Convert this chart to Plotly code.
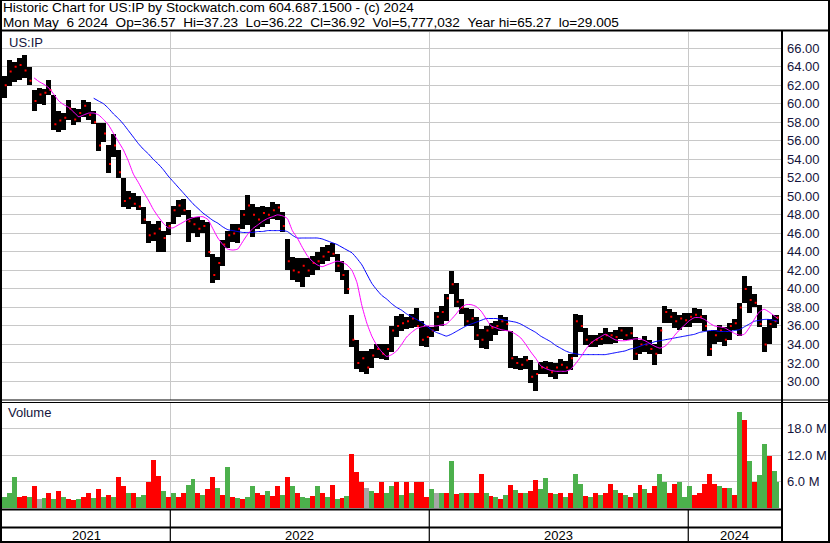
import pandas as pd
import plotly.graph_objects as go

# ---------------------------------------------------------------------------
# US:IP weekly bars (one bar per trading week; the last bar is Mon 6 May 2024)
# ---------------------------------------------------------------------------
week_dates = list(pd.date_range("2021-05-12", periods=156, freq="7D")) + [pd.Timestamp("2024-05-06")]

high = [
    63.0, 64.7, 64.5, 64.9, 65.27, 64.0, 61.5, 61.7, 61.6, 62.6,
    61.0, 59.2, 59.0, 60.4, 59.6, 59.4, 60.4, 60.2, 59.2, 57.9,
    57.9, 55.5, 56.7, 55.0, 52.0, 50.6, 50.4, 50.0, 48.8, 47.3,
    47.0, 47.3, 46.3, 47.2, 49.0, 49.6, 49.7, 48.5, 47.8, 47.8,
    47.4, 47.2, 43.8, 43.5, 45.3, 46.3, 47.0, 47.0, 48.5, 50.1,
    49.2, 48.8, 49.0, 48.8, 49.4, 49.2, 48.3, 45.4, 43.5, 43.3,
    43.3, 43.3, 43.6, 44.0, 44.5, 44.7, 45.0, 43.8, 43.0, 42.0,
    37.2, 34.5, 33.3, 33.3, 33.5, 34.1, 34.1, 34.0, 36.0, 37.1,
    37.3, 37.0, 37.3, 37.9, 36.5, 36.0, 35.9, 37.5, 38.2, 39.5,
    41.9, 40.6, 38.9, 37.9, 37.8, 37.0, 35.7, 36.0, 36.3, 36.5,
    37.2, 37.0, 35.5, 32.8, 32.5, 32.8, 32.3, 31.2, 32.1, 32.2,
    32.1, 32.0, 32.4, 32.2, 33.0, 37.3, 37.2, 35.8, 35.0, 35.0,
    35.2, 35.8, 35.3, 35.6, 35.9, 35.9, 35.9, 34.8, 34.5, 34.9,
    34.5, 34.1, 35.9, 38.1, 37.8, 37.5, 37.2, 37.4, 37.4, 37.9,
    37.8, 37.2, 35.4, 35.6, 36.1, 35.9, 36.3, 36.7, 38.5, 41.35,
    40.3, 39.5, 38.3, 35.9, 36.7, 37.2, 37.23,
]

low = [
    60.6, 61.9, 62.4, 62.6, 62.8, 62.0, 59.2, 60.0, 59.9, 61.0,
    57.2, 57.0, 57.2, 58.2, 57.7, 58.0, 58.6, 58.3, 57.8, 54.9,
    55.9, 52.5, 54.2, 52.0, 48.8, 48.6, 48.8, 48.5, 47.0, 45.0,
    45.2, 44.0, 44.0, 45.8, 47.0, 47.8, 48.0, 45.1, 46.0, 45.6,
    46.0, 43.5, 40.6, 41.0, 42.5, 44.4, 45.1, 45.0, 46.5, 46.9,
    45.6, 46.5, 46.7, 47.0, 47.6, 47.5, 46.2, 42.0, 41.0, 40.8,
    40.2, 41.3, 41.5, 42.0, 42.7, 43.0, 43.4, 41.8, 41.0, 39.5,
    33.7, 31.3, 31.0, 30.8, 31.5, 32.5, 32.4, 32.3, 33.2, 34.8,
    35.5, 35.7, 35.8, 35.9, 33.8, 33.7, 34.8, 35.5, 36.0, 36.5,
    39.5, 38.0, 37.3, 36.0, 36.0, 34.5, 33.6, 33.5, 34.4, 35.0,
    35.5, 35.5, 31.5, 31.3, 31.2, 31.3, 29.8, 29.005, 30.8, 30.8,
    30.5, 30.3, 30.8, 30.8, 31.2, 32.6, 35.3, 33.9, 33.7, 33.7,
    33.9, 34.1, 34.1, 34.2, 34.6, 34.5, 34.5, 32.3, 33.0, 33.2,
    33.0, 31.8, 33.0, 36.3, 36.3, 35.8, 35.6, 35.9, 35.9, 36.3,
    36.3, 35.5, 32.7, 34.1, 34.3, 33.8, 34.5, 35.6, 34.9, 38.5,
    37.4, 38.0, 35.9, 33.2, 34.0, 35.8, 36.22,
]

close = [
    62.0, 63.5, 64.0, 64.2, 63.6, 62.5, 60.3, 61.0, 61.2, 61.5,
    57.8, 58.2, 58.5, 59.5, 58.3, 59.0, 59.8, 58.8, 58.0, 55.5,
    56.8, 53.5, 55.5, 52.6, 49.5, 49.8, 49.2, 48.9, 47.5, 45.8,
    46.0, 46.5, 45.5, 46.8, 48.5, 49.0, 48.5, 47.3, 47.0, 46.5,
    46.8, 44.0, 41.5, 42.8, 44.8, 45.8, 46.0, 46.5, 48.0, 49.0,
    48.0, 47.5, 48.2, 48.0, 48.5, 48.8, 46.8, 43.0, 42.0, 41.8,
    42.5, 42.0, 42.8, 43.0, 43.5, 44.0, 43.8, 42.5, 41.5, 40.0,
    34.5, 32.0, 32.5, 31.5, 32.8, 33.5, 33.0, 33.5, 35.5, 36.0,
    36.3, 36.5, 36.8, 36.0, 34.5, 34.8, 35.5, 37.0, 37.5, 39.0,
    40.5, 38.6, 38.0, 36.5, 36.8, 35.0, 34.5, 35.5, 35.8, 36.0,
    36.5, 36.2, 32.5, 32.0, 31.8, 32.3, 30.5, 30.8, 31.5, 31.5,
    31.0, 31.5, 31.8, 31.5, 32.5, 36.5, 36.0, 34.5, 34.2, 34.5,
    34.6, 35.0, 35.0, 34.8, 35.5, 35.0, 35.2, 33.0, 34.0, 34.0,
    33.5, 33.0, 35.5, 37.5, 37.0, 36.5, 36.8, 36.6, 37.0, 37.2,
    37.0, 36.0, 33.5, 35.0, 35.5, 34.5, 36.0, 36.3, 38.0, 40.0,
    38.8, 38.5, 36.2, 34.0, 36.2, 36.5, 36.92,
]
last_open = 36.57

# volume in millions of shares
volume_m = [
    2.6, 3.5, 7.0, 2.5, 2.8, 2.4, 4.9, 2.0, 2.2, 3.3,
    2.0, 3.8, 2.6, 2.0, 1.8, 2.0, 2.5, 3.5, 2.3, 4.2,
    2.6, 3.0, 2.6, 7.0, 4.9, 3.5, 3.3, 2.6, 3.0, 5.8,
    10.9, 7.2, 3.8, 2.5, 3.5, 2.5, 3.5, 5.3, 6.5, 3.5,
    3.0, 4.2, 7.0, 4.5, 3.0, 9.3, 2.6, 2.3, 2.0, 2.5,
    4.9, 3.5, 3.0, 3.8, 2.8, 4.9, 3.0, 7.0, 4.9, 3.5,
    2.5, 2.3, 2.8, 4.9, 3.5, 2.6, 5.3, 2.0, 2.3, 2.8,
    12.2, 8.2, 5.8, 4.5, 3.8, 3.5, 5.8, 3.5, 4.9, 5.8,
    3.0, 5.8, 3.5, 5.8,
    6.0, 2.5, 4.2, 3.5, 3.5, 3.5, 10.7, 3.2, 3.5, 3.5,
    3.3, 3.3, 7.6, 3.5, 2.8, 2.5, 2.0, 3.0, 5.1, 4.0,
    3.5, 3.5, 3.8, 6.3, 4.2, 6.8, 3.5, 3.2, 3.5, 2.6,
    3.5, 7.8, 5.5, 2.8, 2.6, 3.3, 3.0, 3.5, 5.5, 4.0,
    3.5, 3.0, 2.5, 3.5, 5.1, 4.2, 3.5, 5.0, 7.8, 5.8,
    3.5, 5.5, 6.0, 2.5, 4.9, 3.0, 3.5, 5.5, 7.6, 5.5,
    4.9, 4.5, 4.5, 3.0, 21.7, 19.9, 10.7, 6.0, 7.5, 14.5,
    11.8, 8.4, 5.777032,
]
# g = up, r = down, n = unchanged
volume_dir = (
    "gggrrgrngr" "grgrrgrrgr" "grgrrgrggr" "rrgrgrrggr" "grrgrgrgrg"
    "grrgrrgrgr" "ggrgrgrgrg" "rrrngrrggr" "grgr"
    "rrgngrgrgr" "grrgrgrgrg" "rgrrggrgrg" "rggrgrgrrg" "rgrgrgrrgg"
    "rrgggrrrrr" "grgrgrgrgg" "rgg"
)

# moving averages, aligned to the last weeks of week_dates
ma_fast = [
    62.8, 62.4, 62.1, 61.7, 61.0, 60.3, 59.9, 59.6, 59.1, 58.6,
    58.8, 59.0, 59.0, 58.8, 58.3, 57.7, 56.8, 55.9, 55.0, 53.8,
    52.4, 51.5, 50.5, 49.6, 48.6, 47.8, 47.1, 46.6, 46.6, 46.9,
    47.2, 47.5, 47.7, 47.8, 47.8, 47.5, 46.5, 45.5, 44.8, 44.3,
    44.2, 44.3, 45.1, 45.9, 46.5, 46.9, 47.3, 47.6, 47.8, 48.0,
    47.9, 47.6, 46.3, 45.5, 44.5, 43.6, 43.0, 42.6, 42.4, 42.6,
    42.8, 43.0, 42.9, 42.6, 42.0, 40.7, 38.2, 36.3, 34.9, 33.9,
    33.2, 32.7, 32.9, 33.3, 34.0, 34.8, 35.3, 35.7, 35.9, 36.0,
    36.0, 36.0, 36.1, 36.2, 36.7, 37.3, 38.0, 38.3, 38.3, 38.1,
    37.6, 36.8, 36.0, 35.8, 35.6, 35.5, 35.4, 35.1, 34.7, 34.0,
    33.2, 32.5, 31.7, 31.4, 31.2, 31.1, 31.1, 31.1, 31.3, 31.9,
    32.6, 33.4, 34.1, 34.5, 34.8, 35.1, 34.8, 34.5, 34.4, 34.4,
    34.5, 34.6, 34.6, 34.4, 34.1, 33.8, 33.6, 33.8, 34.3, 35.0,
    35.6, 36.1, 36.6, 36.9, 36.9, 36.7, 36.3, 36.0, 35.9, 35.8,
    35.5, 35.2, 35.0, 35.1, 35.8, 36.7, 37.5, 37.8, 37.5, 37.1,
    36.8,
]
ma_slow = [
    60.6, 60.3, 60.0, 59.5, 58.9, 58.4, 57.8, 57.1, 56.4, 55.7,
    55.1, 54.6, 54.0, 53.5, 52.9, 52.2, 51.6, 51.0, 50.4, 49.8,
    49.2, 48.7, 48.2, 47.8, 47.4, 47.1, 46.7, 46.4, 46.3, 46.2,
    46.1, 46.1, 46.1, 46.2, 46.2, 46.3, 46.3, 46.3, 46.3, 46.2,
    45.8, 45.5, 45.5, 45.5, 45.5, 45.5, 45.4, 45.2, 45.0, 44.8,
    44.5, 44.2, 43.9, 43.3, 42.6, 41.6, 40.6, 39.9, 39.3, 38.9,
    38.4, 38.0, 37.7, 37.3, 37.0, 36.7, 36.4, 36.0, 35.6, 35.3,
    35.1, 34.9, 35.1, 35.4, 35.7, 36.0, 36.2, 36.4, 36.6, 36.8,
    36.8, 36.8, 36.7, 36.6, 36.5, 36.4, 36.2, 35.9, 35.6, 35.3,
    34.9, 34.6, 34.3, 33.9, 33.6, 33.3, 33.1, 33.0, 32.9, 32.9,
    32.9, 32.9, 32.9, 32.9, 33.0, 33.1, 33.2, 33.3, 33.5, 33.6,
    33.8, 34.0, 34.1, 34.3, 34.4, 34.5, 34.6, 34.7, 34.8, 34.9,
    35.0, 35.1, 35.3, 35.4, 35.5, 35.5, 35.4, 35.4, 35.4, 35.5,
    35.6, 35.9, 36.2, 36.5, 36.6, 36.7, 36.7, 36.6, 36.5,
]

price_ticks = list(range(30, 67, 2))
volume_ticks = [6, 12, 18]
year_starts = ["2022-01-01", "2023-01-01", "2024-01-01"]
year_labels = ["2021", "2022", "2023", "2024"]
symbol = "US:IP"

for series in (high, low, close, volume_m):
    assert len(series) == len(week_dates)
assert len(volume_dir) == len(week_dates)

# ---------------------------------------------------------------------------
# page geometry (pixels) and styling
# ---------------------------------------------------------------------------
W, H = 830, 543
PLOT_L, PLOT_R = 2, 781
PRICE_T, PRICE_B = 32, 399.5
VOL_T, VOL_B = 402, 508
X_RANGE = [pd.Timestamp("2021-05-08 19:00"), pd.Timestamp("2024-05-10 17:00")]
PRICE_RANGE = [28.05, 67.76]
VOL_RANGE = [0, 24.0]

FONT = "Liberation Sans, Arial, sans-serif"
GRID = "#c8c8c8"
LABEL = "#14143c"
DIR_COLORS = {"g": "#4cb04c", "r": "#ff0000", "n": "#a6a6a6"}
DAY_MS = 86400000


def fx(px):
    return px / W


def fy(py):
    return 1 - py / H


def nb(text):
    return text.replace("  ", " \u00a0")


fig = go.Figure()

# price bars (low..high), one per week, packed edge to edge
bar_w = [7 * DAY_MS] * (len(week_dates) - 1) + [1.4 * DAY_MS]
fig.add_trace(go.Bar(
    x=week_dates, y=[h - l for h, l in zip(high, low)], base=low,
    width=bar_w, marker=dict(color="black", line=dict(width=0)),
    xaxis="x", yaxis="y", hoverinfo="skip",
))
# close ticks
close_x = [d + pd.Timedelta(days=2) for d in week_dates[:-1]] + [week_dates[-1]]
fig.add_trace(go.Scatter(
    x=close_x, y=close, mode="markers",
    marker=dict(symbol="square", size=2, color="#ff0000", line=dict(width=0)),
    xaxis="x", yaxis="y", hoverinfo="skip",
))
# moving averages
fig.add_trace(go.Scatter(
    x=week_dates[-len(ma_slow):], y=ma_slow, mode="lines",
    line=dict(color="#0000ff", width=1, shape="spline", smoothing=0.5),
    xaxis="x", yaxis="y", hoverinfo="skip",
))
fig.add_trace(go.Scatter(
    x=week_dates[-len(ma_fast):], y=ma_fast, mode="lines",
    line=dict(color="#ff00ff", width=1, shape="spline", smoothing=0.5),
    xaxis="x", yaxis="y", hoverinfo="skip",
))
# volume
fig.add_trace(go.Bar(
    x=week_dates, y=volume_m, width=bar_w,
    marker=dict(color=[DIR_COLORS[c] for c in volume_dir], line=dict(width=0)),
    xaxis="x2", yaxis="y2", hoverinfo="skip",
))

common_x = dict(
    type="date", range=X_RANGE, domain=[fx(PLOT_L), fx(PLOT_R)],
    tickvals=year_starts, showticklabels=False, ticks="",
    showgrid=True, gridcolor=GRID, gridwidth=1,
    zeroline=False, showline=False, fixedrange=True, layer="below traces",
)
common_y = dict(
    side="right", ticks="", showgrid=True, gridcolor=GRID, gridwidth=1,
    zeroline=False, showline=False, fixedrange=True,
    tickfont=dict(family=FONT, size=13, color=LABEL), ticklabelstandoff=5,
)

fig.update_layout(
    width=W, height=H, margin=dict(l=0, r=0, t=0, b=0),
    paper_bgcolor="white", plot_bgcolor="white",
    showlegend=False, barmode="overlay", bargap=0,
    xaxis=dict(anchor="y", **common_x),
    xaxis2=dict(anchor="y2", **common_x),
    yaxis=dict(
        anchor="x", domain=[fy(PRICE_B), fy(PRICE_T)], range=PRICE_RANGE,
        tickvals=price_ticks, ticktext=[f"{v:.2f}" for v in price_ticks], **common_y,
    ),
    yaxis2=dict(
        anchor="x2", domain=[fy(VOL_B), fy(VOL_T)], range=VOL_RANGE,
        tickvals=volume_ticks, ticktext=[f"{v:.1f} M" for v in volume_ticks], **common_y,
    ),
)

# header text built from the last bar
last_day = week_dates[-1]
header_lines = [
    f"Historic Chart for {symbol} by Stockwatch.com 604.687.1500 - (c) {last_day.year}",
    f"{last_day.strftime('%a %b')} {last_day.day:2d} {last_day.year}  Op={last_open:.2f}  "
    f"Hi={high[-1]:.2f}  Lo={low[-1]:.2f}  Cl={close[-1]:.2f}  "
    f"Vol={int(round(volume_m[-1] * 1e6)):,}  Year hi={max(high):g}  lo={min(low):g}",
]

annotations = []
for text, ypx in zip(header_lines, [8.0, 22.5]):
    annotations.append(dict(
        text=nb(text), xref="paper", yref="paper", x=fx(1), y=fy(ypx),
        xanchor="left", yanchor="middle", showarrow=False,
        font=dict(family=FONT, size=13.6, color="black"),
    ))
annotations.append(dict(
    text=symbol, xref="paper", yref="paper", x=fx(7), y=fy(42.5),
    xanchor="left", yanchor="middle", showarrow=False,
    font=dict(family=FONT, size=13, color=LABEL),
))
annotations.append(dict(
    text="Volume", xref="paper", yref="paper", x=fx(6), y=fy(413),
    xanchor="left", yanchor="middle", showarrow=False,
    font=dict(family=FONT, size=13, color=LABEL),
))

# year labels centred in the visible part of each year
bounds = [X_RANGE[0]] + [pd.Timestamp(s) for s in year_starts] + [X_RANGE[1]]
for label, a, b in zip(year_labels, bounds[:-1], bounds[1:]):
    annotations.append(dict(
        text=label, xref="x", yref="paper", x=a + (b - a) / 2, y=fy(535),
        xanchor="center", yanchor="middle", showarrow=False,
        font=dict(family=FONT, size=13, color="black"),
    ))
fig.update_layout(annotations=annotations)

# frame and panel separators
shapes = []


def hline(ypx, x0, x1, w):
    shapes.append(dict(type="line", xref="paper", yref="paper",
                       x0=fx(x0), x1=fx(x1), y0=fy(ypx), y1=fy(ypx),
                       line=dict(color="black", width=w)))


def vline(xpx, y0, y1, w):
    shapes.append(dict(type="line", xref="paper", yref="paper",
                       x0=fx(xpx), x1=fx(xpx), y0=fy(y0), y1=fy(y1),
                       line=dict(color="black", width=w)))


hline(0.5, 0, W, 1)
hline(30.5, 0, W, 2)
hline(PRICE_B + 0.5, 0, W, 1)
hline(VOL_T + 0.5, 0, W, 1)
hline(509.5, 0, 782, 2)
hline(527.5, 0, 782, 2)
hline(542, 0, W, 2)
vline(1, 0, H, 2)
vline(829, 0, H, 2)
vline(782, 30, H, 2)
for ys in year_starts:
    shapes.append(dict(type="line", xref="x", yref="paper", x0=ys, x1=ys,
                       y0=fy(509), y1=fy(542), line=dict(color="black", width=1.2)))
fig.update_layout(shapes=shapes)

fig.write_html("out.html")
